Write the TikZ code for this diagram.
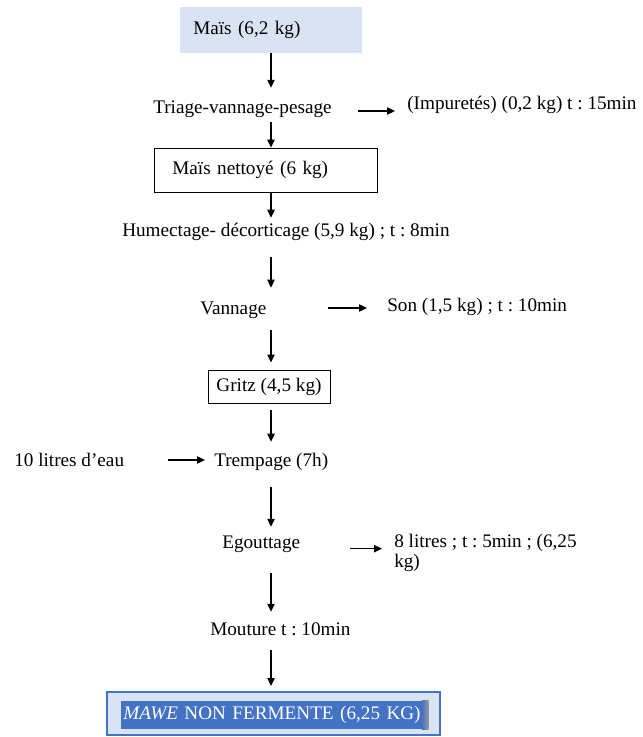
\documentclass[tikz,border=0pt]{standalone}
\usepackage{fontspec}
\setmainfont{Liberation Serif}
\usetikzlibrary{arrows.meta}

\definecolor{bleuclair}{HTML}{DAE3F3}
\definecolor{bleu}{HTML}{4472C4}

\tikzset{
  etape/.style={anchor=west, inner sep=0pt, text height=10pt, text depth=3pt},
  boite/.style={draw, line width=0.6pt, inner ysep=0pt},
  fleche/.style={-{Triangle[length=6pt,width=5.5pt]}, line width=0.9pt},
}

\begin{document}
\frenchspacing
\begin{tikzpicture}[x=0.75pt, y=-0.75pt, font=\fontsize{14.4}{15.5}\selectfont]

\useasboundingbox (0,0) rectangle (642,737);
\coordinate (col) at (271,0);   % axe des fleches verticales

% Boites
\node[anchor=west, fill=bleuclair, minimum height=34.5pt, text width=117pt,
      inner xsep=9.75pt, inner ysep=0pt, align=left] (mais) at (180,30) {Maïs (6,2 kg)};
\node[boite, anchor=west, minimum height=33pt, text width=140.25pt,
      inner xsep=13.5pt, align=left] (nettoye) at (154,170) {Maïs nettoyé (6 kg)};
\node[boite, minimum width=91.5pt, minimum height=24.75pt] (gritz) at (269,386.5) {Gritz (4,5 kg)};

% Etapes
\node[etape] (triage) at (153,109) {Triage-vannage-pesage};
\node[etape] (impur) at (407,105) {(Impuretés) (0,2 kg) t : 15min};
\node[etape] (humect) at (122,232) {Humectage- décorticage (5,9 kg) ; t : 8min};
\node[etape] (vannage) at (200,310) {Vannage};
\node[etape] (son) at (387,307) {Son (1,5 kg) ; t : 10min};
\node[etape] (trempage) at (214,462) {Trempage (7h)};
\node[etape] (eau) at (14,462) {10 litres d’eau};
\node[etape] (egout) at (222,544) {Egouttage};
\node[anchor=west, inner sep=0pt, align=left] (liquide) at (394,553) {8 litres ; t : 5min ; (6,25\\kg)};
\node[etape] (mouture) at (210,631) {Mouture t : 10min};

% Produit final
\node[draw=bleu, line width=1.5pt, fill=bleuclair, minimum width=249.75pt,
      minimum height=32.25pt] (mawe) at (273.5,713.5) {};
\node[anchor=west, fill=bleu, text=white, minimum height=21pt, text width=227.25pt,
      inner xsep=1.5pt, inner ysep=0pt, align=left] (mawein) at (121,715)
      {\textit{MAWE} NON FERMENTE (6,25 KG)};
\fill[left color=bleu, right color=gray!80] ([xshift=-5pt]mawein.north east) rectangle (mawein.south east);

% Fleches verticales
\draw[fleche, shorten >=9.2pt] (mais.south -| col) -- (triage.north -| col);
\draw[fleche, shorten <=3.2pt] (triage.south -| col) -- (nettoye.north -| col);
\draw[fleche, shorten >=4pt] (nettoye.south -| col) -- (humect.north -| col);
\draw[fleche, shorten <=12.2pt, shorten >=10pt] (humect.south -| col) -- (vannage.north -| col);
\draw[fleche, shorten <=8.5pt, shorten >=5.3pt] (vannage.south -| col) -- (gritz.north -| col);
\draw[fleche, shorten <=5.3pt, shorten >=8.5pt] (gritz.south -| col) -- (trempage.north -| col);
\draw[fleche, shorten <=12.2pt, shorten >=6.2pt] (trempage.south -| col) -- (egout.north -| col);
\draw[fleche, shorten <=15.2pt, shorten >=7.7pt] (egout.south -| col) -- (mouture.north -| col);
\draw[fleche, shorten <=7.7pt, shorten >=3.75pt] (mouture.south -| col) -- (mawe.north -| col);

% Fleches horizontales
\draw[fleche, shorten <=19.5pt, shorten >=9pt] ([yshift=-1.5pt]triage.east) -- ([yshift=-1.5pt]triage.east -| impur.west);
\draw[fleche, shorten <=46pt, shorten >=15pt] ([yshift=1.5pt]vannage.east) -- ([yshift=1.5pt]vannage.east -| son.west);
\draw[fleche, shorten <=33pt, shorten >=6.75pt] ([yshift=1.5pt]eau.east) -- ([yshift=1.5pt]eau.east -| trempage.west);
\draw[fleche, shorten <=37.5pt, shorten >=9pt] ([yshift=-3.5pt]egout.east) -- ([yshift=-3.5pt]egout.east -| liquide.west);

\end{tikzpicture}
\end{document}
